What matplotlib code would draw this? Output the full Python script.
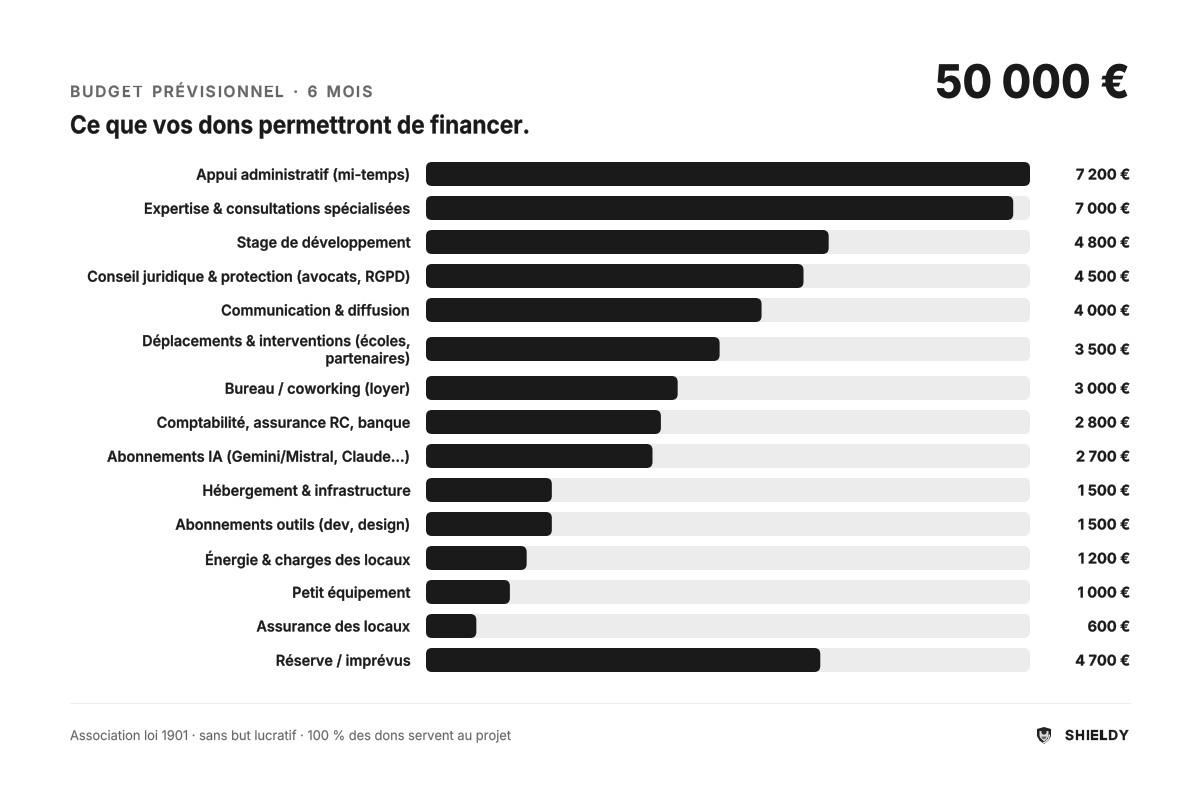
import matplotlib
matplotlib.use('Agg')
import matplotlib.pyplot as plt
from matplotlib.patches import FancyBboxPatch, Polygon, Circle
from matplotlib.patheffects import AbstractPathEffect
from matplotlib.transforms import Affine2D

plt.rcParams['font.family'] = ['Inter', 'DejaVu Sans']

labels = [
    "Appui administratif (mi-temps)",
    "Expertise & consultations spécialisées",
    "Stage de développement",
    "Conseil juridique & protection (avocats, RGPD)",
    "Communication & diffusion",
    "Déplacements & interventions (écoles,\npartenaires)",
    "Bureau / coworking (loyer)",
    "Comptabilité, assurance RC, banque",
    "Abonnements IA (Gemini/Mistral, Claude...)",
    "Hébergement & infrastructure",
    "Abonnements outils (dev, design)",
    "Énergie & charges des locaux",
    "Petit équipement",
    "Assurance des locaux",
    "Réserve / imprévus",
]
values = [7200, 7000, 4800, 4500, 4000, 3500, 3000, 2800, 2700, 1500, 1500, 1200, 1000, 600, 4700]
value_labels = ["7 200 €", "7 000 €", "4 800 €", "4 500 €", "4 000 €", "3 500 €", "3 000 €", "2 800 €",
                "2 700 €", "1 500 €", "1 500 €", "1 200 €", "1 000 €", "600 €", "4 700 €"]

W, H = 1200, 790
DARK = '#1a1a1a'
TRACK = '#ececec'
BAR_H = 24
GAP = 10
EXTRA_LINE = 5
RADIUS = 6


class Tightened(AbstractPathEffect):
    # squeezes glyph outlines around a fixed x (stand-in for negative letter-spacing),
    # with an optional hairline stroke to fatten small text
    def __init__(self, sx, x0, stroke=0.0):
        super().__init__()
        self.sx = sx
        self.x0 = x0
        self.stroke = stroke

    def draw_path(self, renderer, gc, tpath, affine, rgbFace=None):
        squeeze = Affine2D().translate(-self.x0, 0).scale(self.sx, 1).translate(self.x0, 0)
        gc0 = renderer.new_gc()
        gc0.copy_properties(gc)
        gc0.set_linewidth(self.stroke)
        gc0.set_foreground(rgbFace)
        renderer.draw_path(gc0, tpath, affine + squeeze, rgbFace)
        gc0.restore()


def tracked_text(fig, x, y, s, size, color, weight, spacing, stroke=0.0):
    # matplotlib has no letter-spacing, so place the glyphs one at a time
    renderer = fig.canvas.get_renderer()
    for i, ch in enumerate(s):
        t = fig.text(x / W, 1 - y / H, ch, fontsize=size, color=color, fontweight=weight, va='baseline', ha='left',
                     path_effects=[Tightened(1, x, stroke)])
        if ch == ' ':
            t.set_text('n')
            adv = t.get_window_extent(renderer).width * 0.62
            t.set_text(' ')
        else:
            adv = t.get_window_extent(renderer).width
        x += adv + spacing


fig = plt.figure(figsize=(12, 7.9), dpi=100, facecolor='white')

# row layout: a wrapped label makes its row a little taller
y_pos = []
y = 0
for i, lab in enumerate(labels):
    extra = EXTRA_LINE if '\n' in lab else 0
    y += extra
    y_pos.append(y)
    y += BAR_H + GAP + extra

ax_left, ax_right = 426, 1030
ax_top = 162
ax_h = y_pos[-1] + BAR_H
ax = fig.add_axes([ax_left / W, 1 - (ax_top + ax_h) / H, (ax_right - ax_left) / W, ax_h / H])
ax.set_xlim(0, max(values))
ax.set_ylim(ax_h, 0)
ax.axis('off')

px = (ax_right - ax_left) / max(values)
for i in range(len(values)):
    for w, col, z in [(max(values), TRACK, 1), (values[i], DARK, 2)]:
        ax.add_patch(FancyBboxPatch((0, y_pos[i]), w, BAR_H,
                                    boxstyle=f"round,pad=0,rounding_size={RADIUS / px}",
                                    mutation_aspect=px, fc=col, ec='none', zorder=z, clip_on=False))
    ax.annotate(labels[i], (0, y_pos[i] + BAR_H / 2), xytext=(-16, -1.5), textcoords='offset pixels',
                ha='right', va='center', multialignment='right', fontsize=10.8, fontweight=600,
                color=DARK, linespacing=1.25, path_effects=[Tightened(0.96, 410, 0.2)])
    ax.annotate(value_labels[i], (1, y_pos[i] + BAR_H / 2), xycoords=('axes fraction', 'data'),
                xytext=(100, -1.5), textcoords='offset pixels', ha='right', va='center',
                fontsize=10.6, fontweight=700, color=DARK, path_effects=[Tightened(0.99, 1130, 0.2)])

# header
tracked_text(fig, 70, 97, "BUDGET PRÉVISIONNEL · 6 MOIS", 11.2, '#666666', 600, 1.75, 0.2)
fig.text(70 / W, 1 - 133.5 / H, "Ce que vos dons permettront de financer.", fontsize=18, fontweight=700,
         color=DARK, va='baseline', ha='left', path_effects=[Tightened(0.905, 70, 0.2)])
fig.text(1130 / W, 1 - 98 / H, "50 000 €", fontsize=33.5, fontweight=800, color=DARK, va='baseline', ha='right',
         path_effects=[Tightened(0.923, 1130)])

# footer
fig.add_artist(plt.Line2D([70 / W, 1130 / W], [1 - 703 / H] * 2, color='#eeeeee', lw=0.8))
fig.text(70 / W, 1 - 740 / H, "Association loi 1901 · sans but lucratif · 100 % des dons servent au projet",
         fontsize=9.6, color='#666666', va='baseline', ha='left', path_effects=[Tightened(0.964, 70, 0.1)])
tracked_text(fig, 1065, 740, "SHIELDY", 9.9, DARK, 700, 0.8, 0.2)

# small shield logo
logo = fig.add_axes([1034 / W, 1 - 746 / H, 20 / W, 22 / H])
logo.set_xlim(0, 20)
logo.set_ylim(22, 0)
logo.axis('off')
logo.add_patch(Polygon([(3, 5), (10, 3), (17, 5), (17, 12), (15, 16), (10, 20), (5.5, 16.5), (3, 12)],
                       fc='#222222', ec='none'))
logo.add_patch(Polygon([(5.5, 7), (14.5, 7), (14.5, 12), (12.5, 15.5), (10, 17.5), (6.5, 14), (5.5, 12)],
                       fc='#d8d8d8', ec='none'))
logo.add_patch(Circle((10, 8), 2.6, fc='#2a2a2a', ec='none'))
logo.add_patch(Polygon([(7.5, 12.5), (12.5, 12.5), (11.5, 15), (8.5, 15)], fc='#666666', ec='none'))
logo.plot([15.5, 14.5, 11.5, 9], [11, 15, 18, 19], color='#f2f2f2', lw=0.9, solid_capstyle='round')

fig.savefig('out.png', dpi=100, facecolor='white')
